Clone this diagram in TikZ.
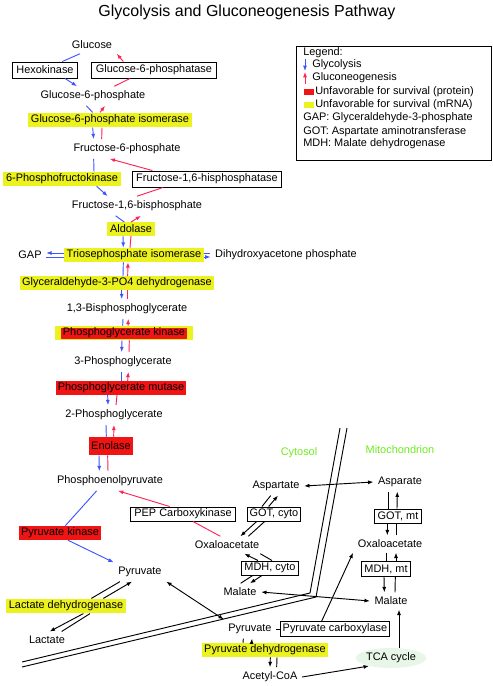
\documentclass[tikz,border=0pt]{standalone}
\usepackage{fontspec}
\setmainfont{Liberation Sans}
\usetikzlibrary{arrows.meta,shapes.geometric}
\definecolor{glyblue}{RGB}{60,85,255}
\definecolor{neored}{RGB}{255,35,85}
\definecolor{mrnayellow}{RGB}{236,242,30}
\definecolor{protred}{RGB}{240,20,20}
\definecolor{compgreen}{RGB}{110,235,30}
\definecolor{tcagreen}{RGB}{232,246,232}

\begin{document}
\begin{tikzpicture}[x=0.75pt, y=-0.75pt, font=\fontsize{8.2}{9.5}\selectfont,
        >={Latex[length=4pt,width=3pt]}]
      \tikzstyle{enzyme} = [draw, line width=0.75pt, inner xsep=3pt, inner ysep=0pt, minimum height=12pt]
      \tikzstyle{mrna} = [fill=mrnayellow, inner xsep=2pt, inner ysep=0pt, minimum height=10.5pt]
      \tikzstyle{prot} = [fill=protred, inner xsep=1.5pt, inner ysep=0pt, minimum height=10.5pt]
      \tikzstyle{gly} = [draw=glyblue, line width=0.7pt]
      \tikzstyle{neo} = [draw=neored, line width=0.7pt]
      \tikzstyle{rx} = [draw=black, line width=0.7pt]
      \tikzstyle{legtext} = [anchor=west, inner sep=0pt]
      \useasboundingbox (0,0) rectangle (493,686);

      \node (title) at (247,12) {\fontsize{12}{14}\selectfont Glycolysis and Gluconeogenesis Pathway};

      % glycolysis / gluconeogenesis trunk
      \node (glc) at (92,45) {Glucose};
      \node (hk) [enzyme] at (45,70) {Hexokinase};
      \node (g6pase) [enzyme] at (154,70) {Glucose-6-phosphatase};
      \node (g6p) at (93,96) {Glucose-6-phosphate};
      \node (gpi) [mrna, minimum height=11pt] at (110,120) {Glucose-6-phosphate isomerase};
      \node (f6p) at (127,149) {Fructose-6-phosphate};
      \node (pfk) [mrna] at (62,179) {6-Phosphofructokinase};
      \node (fbpase) [enzyme] at (207,179) {Fructose-1,6-hisphosphatase};
      \node (f16bp) at (137,206) {Fructose-1,6-bisphosphate};
      \node (ald) [mrna, minimum height=10pt] at (131,229) {Aldolase};
      \node (gap) at (30,255) {GAP};
      \node (tpi) [mrna] at (134,255) {Triosephosphate isomerase};
      \node (dhap) at (286,255) {Dihydroxyacetone phosphate};
      \node (gapdh) [mrna, minimum height=10pt] at (117,283) {Glyceraldehyde-3-PO4 dehydrogenase};
      \node (bpg) at (127,309) {1,3-Bisphosphoglycerate};
      \node (pgk) [mrna, inner xsep=6pt] at (124,333) {\phantom{Phosphoglycerate kinase}};
      \node (pgkr) [prot, minimum height=8.25pt] at (pgk) {Phosphoglycerate kinase};
      \node (pg3) at (123,362) {3-Phosphoglycerate};
      \node (pgm) [prot, minimum height=10pt] at (121,388) {Phosphoglycerate mutase};
      \node (pg2) at (114,415) {2-Phosphoglycerate};
      \node (eno) [prot, minimum height=13.5pt] at (111,446) {Enolase};
      \node (pep) at (110,481) {Phosphoenolpyruvate};
      \node (pk) [prot] at (60,533) {Pyruvate kinase};
      \node (pepck) [enzyme, minimum height=10.5pt] at (183,514) {PEP Carboxykinase};
      \node (pyr) at (140,572) {Pyruvate};
      \node (ldh) [mrna, minimum height=11pt] at (66,606) {Lactate dehydrogenase};
      \node (lac) at (47,640) {Lactate};

      % cytosol side
      \node (cyto) [text=compgreen] at (299,453) {Cytosol};
      \node (aspc) at (276,486) {Aspartate};
      \node (gotc) [enzyme, minimum height=10.5pt, inner xsep=2pt] at (274,514) {GOT, cyto};
      \node (oaac) at (227,545) {Oxaloacetate};
      \node (mdhc) [enzyme, minimum height=10.5pt, inner xsep=2pt] at (270,568) {MDH, cyto};
      \node (malc) at (240,592) {Malate};

      % mitochondrion side
      \node (mito) [text=compgreen] at (400,450) {Mitochondrion};
      \node (aspm) at (400,482) {Asparate};
      \node (gotm) [enzyme, minimum height=10.5pt, inner xsep=2pt] at (398,516) {GOT, mt};
      \node (oaam) at (390,544) {Oxaloacetate};
      \node (mdhm) [enzyme, minimum height=11pt, inner xsep=2pt] at (386,569) {MDH, mt};
      \node (malm) at (391,601) {Malate};
      \node (pyrm) at (250,629) {Pyruvate};
      \node (pc) [enzyme, minimum height=11pt, inner xsep=2pt] at (335,629) {Pyruvate carboxylase};
      \node (pdh) [mrna] at (265,650) {Pyruvate dehydrogenase};
      \node (acoa) at (270,677) {Acetyl-CoA};
      \node (tca) [ellipse, fill=tcagreen, minimum width=43pt, minimum height=15pt, inner sep=0pt] at (391,658) {TCA cycle};

      % membrane
      \draw[line width=0.7pt] (340,428) -- (310,593) -- (22,662);
      \draw[line width=0.7pt] (347,428) -- (316,597) -- (22,667);

      % glycolysis (blue)
      \draw[gly] ([xshift=-9pt]glc.south) -- ([xshift=13pt]hk.north);
      \draw[gly,->] ([xshift=15pt]hk.south) -- ([xshift=-12pt]g6p.north);
      \draw[gly] ([xshift=-5pt]g6p.south) -- ([xshift=-13pt]gpi.north);
      \draw[gly,->] ([xshift=-13pt]gpi.south) -- ([xshift=-25pt]f6p.north);
      \draw[gly] ([xshift=-25pt]f6p.south) -- ([xshift=24pt]pfk.north);
      \draw[gly,->] ([xshift=26pt]pfk.south) -- ([xshift=-22pt]f16bp.north);
      \draw[gly] ([xshift=-16pt]f16bp.south) -- ([xshift=-5pt]ald.north);
      \draw[gly,->] ([xshift=-6pt]ald.south) -- ([xshift=-8pt]tpi.north);
      \draw[gly,->] ([yshift=1.5pt]tpi.west) -- ([yshift=1.5pt]gap.east);
      \draw[gly] ([yshift=-1.5pt]tpi.west) -- ([yshift=-1.5pt]gap.east);
      \draw[gly] ([yshift=1.5pt]tpi.east) -- ([yshift=1.5pt]dhap.west);
      \draw[gly,->] ([yshift=-1.5pt]tpi.east) -- ([yshift=-1.5pt]dhap.west);
      \draw[gly] ([xshift=-8pt]tpi.south) -- ([xshift=4.5pt]gapdh.north);
      \draw[gly,->] ([xshift=3.5pt]gapdh.south) -- ([xshift=-4pt]bpg.north);
      \draw[gly] ([xshift=-3pt]bpg.south) -- ([xshift=-1pt]pgk.north);
      \draw[gly,->] ([xshift=-1.5pt]pgk.south) -- ([xshift=-1pt]pg3.north);
      \draw[gly] ([xshift=-1.5pt]pg3.south) -- (pgm.north);
      \draw[gly,->] ([xshift=-10pt]pgm.south) -- ([xshift=-4.5pt]pg2.north);
      \draw[gly] ([xshift=-6pt]pg2.south) -- ([xshift=-3.5pt]eno.north);
      \draw[gly,->] ([xshift=-9pt]eno.south) -- ([xshift=-8pt]pep.north);
      \draw[gly] ([xshift=-10pt]pep.south) -- ([xshift=4pt]pk.north);
      \draw[gly,->] ([xshift=6pt]pk.south) -- (pyr.north west);

      % gluconeogenesis (red)
      \draw[neo,->] ([xshift=-23pt]g6pase.north) -- (glc.south east);
      \draw[neo] ([xshift=16pt]g6p.north) -- ([xshift=-18pt]g6pase.south);
      \draw[neo,->] ([xshift=-7.5pt]gpi.north) -- ([xshift=9pt]g6p.south);
      \draw[neo] ([xshift=-19pt]f6p.north) -- ([xshift=-6pt]gpi.south);
      \draw[neo,->] ([xshift=-41pt]fbpase.north) -- ([xshift=-13pt]f6p.south);
      \draw[neo] (f16bp.north) -- ([xshift=-33pt]fbpase.south);
      \draw[neo,->] (ald.north) -- ([xshift=3pt]f16bp.south);
      \draw[neo] ([xshift=-3pt]tpi.north) -- (ald.south);
      \draw[neo,->] ([xshift=8pt]gapdh.north) -- ([xshift=-4.5pt]tpi.south);
      \draw[neo] ([xshift=0.5pt]bpg.north) -- ([xshift=8pt]gapdh.south);
      \draw[neo,->] ([xshift=3pt]pgk.north) -- ([xshift=1pt]bpg.south);
      \draw[neo] ([xshift=4.5pt]pg3.north) -- ([xshift=4pt]pgk.south);
      \draw[neo,->] ([xshift=5pt]pgm.north) -- ([xshift=4pt]pg3.south);
      \draw[neo] ([xshift=1.5pt]pg2.north) -- ([xshift=-3pt]pgm.south);
      \draw[neo,->] ([xshift=2pt]eno.north) -- (pg2.south);
      \draw[neo] ([xshift=-1.5pt]pep.north) -- ([xshift=-2.5pt]eno.south);
      \draw[neo,->] ([xshift=-10pt]pepck.north) -- ([xshift=6pt]pep.south);
      \draw[neo] ([xshift=-5pt]oaac.north) -- ([xshift=7.5pt]pepck.south);

      % lactate
      \draw[rx] ([xshift=19pt]ldh.north) -- ([xshift=-15pt]pyr.south);
      \draw[rx,->] ([xshift=28pt]ldh.north) -- ([xshift=-6pt]pyr.south);
      \draw[rx,->] ([xshift=13pt]ldh.south) -- ([xshift=2pt]lac.north);
      \draw[rx] ([xshift=18pt]ldh.south) -- ([xshift=11pt]lac.north);

      % cytosol reactions
      \draw[rx,->] ([xshift=-4pt]gotc.north) -- ([xshift=1.5pt]aspc.south);
      \draw[rx] ([xshift=-4pt]aspc.south) -- ([xshift=-9pt]gotc.north);
      \draw[rx,->] ([xshift=-13pt]gotc.south) -- ([xshift=10pt]oaac.north);
      \draw[rx] ([xshift=16pt]oaac.north) -- ([xshift=-7pt]gotc.south);
      \draw[rx,->] ([xshift=-9pt]mdhc.north) -- ([xshift=13pt]oaac.south);
      \draw[rx] ([xshift=25pt]oaac.south) -- ([xshift=1.5pt]mdhc.north);
      \draw[rx] ([xshift=0.5pt]malc.north) -- ([xshift=-13pt]mdhc.south);
      \draw[rx,->] ([xshift=-6pt]mdhc.south) -- ([xshift=7.5pt]malc.north);

      % shuttles
      \draw[rx,<->] (aspc.east) -- (aspm.west);
      \draw[rx,<->] (malc.east) -- (malm.west);
      \draw[rx,<->] (pyr.south east) -- (pyrm.north west);

      % mitochondrion reactions
      \draw[rx] ([xshift=-9pt]aspm.south) -- ([xshift=-7.5pt]gotm.north);
      \draw[rx,->] ([xshift=-0.75pt]gotm.north) -- ([xshift=-2pt]aspm.south);
      \draw[rx,->] ([xshift=-8pt]gotm.south) -- ([xshift=-2pt]oaam.north);
      \draw[rx] ([xshift=4.5pt]oaam.north) -- ([xshift=-1.5pt]gotm.south);
      \draw[rx] ([xshift=-3pt]oaam.south) -- (mdhm.north);
      \draw[rx,->] ([xshift=7.5pt]mdhm.north) -- ([xshift=4.5pt]oaam.south);
      \draw[rx,->] ([xshift=-1.5pt]mdhm.south) -- ([xshift=-5pt]malm.north);
      \draw[rx] ([xshift=3pt]malm.north) -- ([xshift=7pt]mdhm.south);
      \draw[rx] (pyrm.east) -- (pc.west);
      \draw[rx,->] ([xshift=-10pt]pc.north) -- (oaam.south west);
      \draw[rx,->] ([xshift=-10pt]pdh.north) -- ([xshift=1.5pt]pyrm.south);
      \draw[rx] ([xshift=-5pt]pyrm.south) -- ([xshift=-16.5pt]pdh.north);
      \draw[rx,->] ([xshift=4pt]pdh.south) -- (acoa.north);
      \draw[rx] ([xshift=5pt]acoa.north) -- ([xshift=9pt]pdh.south);
      \draw[rx,->] (acoa.east) -- (tca.200);
      \draw[rx,->] ([xshift=6pt]tca.north) -- ([xshift=6pt]malm.south);

      % legend
      \draw[line width=0.75pt] (296,46) rectangle (491,160);
      \node (lg) [legtext] at (303,53) {Legend:};
      \draw[gly,->] (305,59) -- (305,71);
      \node (lggly) [legtext] at (312,65) {Glycolysis};
      \draw[neo,->] (305,84) -- (305,72);
      \node (lgneo) [legtext] at (312,78) {Gluconeogenesis};
      \fill[protred] (304,89) rectangle (314,95);
      \node (lgprot) [legtext] at (315,92) {Unfavorable for survival (protein)};
      \fill[mrnayellow] (304,102) rectangle (314,108);
      \node (lgmrna) [legtext] at (315,105) {Unfavorable for survival (mRNA)};
      \node (lggap) [legtext] at (303,118) {GAP: Glyceraldehyde-3-phosphate};
      \node (lggot) [legtext] at (303,132) {GOT: Aspartate aminotransferase};
      \node (lgmdh) [legtext] at (303,144) {MDH: Malate dehydrogenase};
    \end{tikzpicture}
\end{document}
